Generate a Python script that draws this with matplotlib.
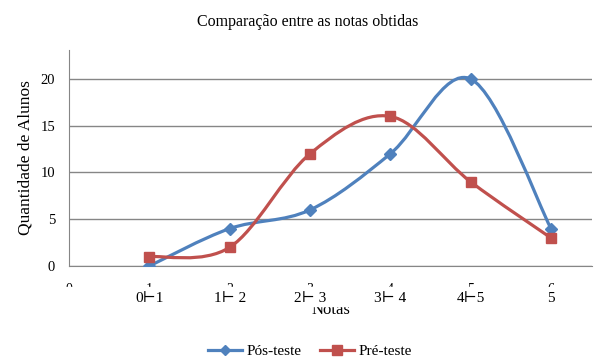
import numpy as np
import matplotlib
matplotlib.use("Agg")
import matplotlib.pyplot as plt
from matplotlib.path import Path
from matplotlib.patches import PathPatch, Rectangle
from matplotlib.lines import Line2D
import matplotlib.transforms as mtransforms

plt.rcParams['font.family'] = ['Liberation Serif', 'DejaVu Serif']

# data
x_pos = [1, 2, 3, 4, 5, 6]
pos_teste = [0, 4, 6, 12, 20, 4]
pre_teste = [1, 2, 12, 16, 9, 3]
categorias = ['0⊢1', '1⊢ 2', '2⊢ 3', '3⊢ 4', '4⊢5', '5']
blue = '#4F81BD'
red = '#C0504D'
grid_col = '#868686'


def smooth_path(xs, ys):
    # excel-like smoothed line: cubic bezier through the points
    pts = np.column_stack([xs, ys]).astype(float)
    n = len(pts)
    verts = [pts[0]]
    codes = [Path.MOVETO]
    for i in range(n - 1):
        p0 = pts[max(i - 1, 0)]
        p1 = pts[i]
        p2 = pts[i + 1]
        p3 = pts[min(i + 2, n - 1)]
        c1 = p1 + (p2 - p0) / 6.0
        c2 = p2 - (p3 - p1) / 6.0
        verts += [c1, c2, p2]
        codes += [Path.CURVE4] * 3
    return Path(verts, codes)


fig = plt.figure(figsize=(6.16, 3.64), dpi=100)
ax = fig.add_axes([69/616, 1 - 266/364, (592 - 69)/616, (266 - 50)/364])

ax.set_xlim(0, 6.51)
ax.set_ylim(0, 23.1)
ax.set_yticks([0, 5, 10, 15, 20])
ax.set_xticks(range(7))
ax.yaxis.grid(True, color=grid_col, lw=1)
ax.set_axisbelow(True)
for s in ['top', 'right']:
    ax.spines[s].set_visible(False)
ax.spines['left'].set_color(grid_col)
ax.spines['bottom'].set_color(grid_col)
ax.tick_params(axis='y', length=0, pad=10, labelsize=10.5)
ax.tick_params(axis='x', length=0, pad=12, labelsize=10)

for ys, col in [(pos_teste, blue), (pre_teste, red)]:
    ax.add_patch(PathPatch(smooth_path(x_pos, ys), fill=False, edgecolor=col,
                           lw=2.3, capstyle='round', zorder=3))
ax.plot(x_pos, pos_teste, ls='none', marker='D', ms=6.5, color=blue, zorder=4)
ax.plot(x_pos, pre_teste, ls='none', marker='s', ms=7.5, color=red, zorder=4)

ax.set_ylabel('Quantidade de Alunos', fontsize=12.5, labelpad=5)
ax.set_xlabel('Notas', fontsize=12)
ax.xaxis.set_label_coords(0.5, -0.168)

# white band hiding the numeric labels, with category labels on top
fig.add_artist(Rectangle((0, 1 - 306/364), 1, (306 - 287)/364,
                         transform=fig.transFigure, color='white', zorder=5))
trans = mtransforms.blended_transform_factory(ax.transData, fig.transFigure)
for xp, lab in zip(x_pos, categorias):
    fig.text(xp, 1 - 299/364, lab, transform=trans, ha='center', va='center',
             fontsize=11, zorder=6)

fig.suptitle('Comparação entre as notas obtidas', y=1 - 22/364, va='center',
             fontsize=11.5)

handles = [Line2D([], [], color=blue, lw=2.3, marker='D', ms=5.5),
           Line2D([], [], color=red, lw=2.3, marker='s', ms=6.5)]
fig.legend(handles, ['Pós-teste', 'Pré-teste'], loc='center',
           bbox_to_anchor=(310/616, 1 - 351/364), ncol=2, frameon=False,
           fontsize=11, handlelength=2.2, handletextpad=0.3, columnspacing=1.2)

fig.savefig('out.png', dpi=100)
